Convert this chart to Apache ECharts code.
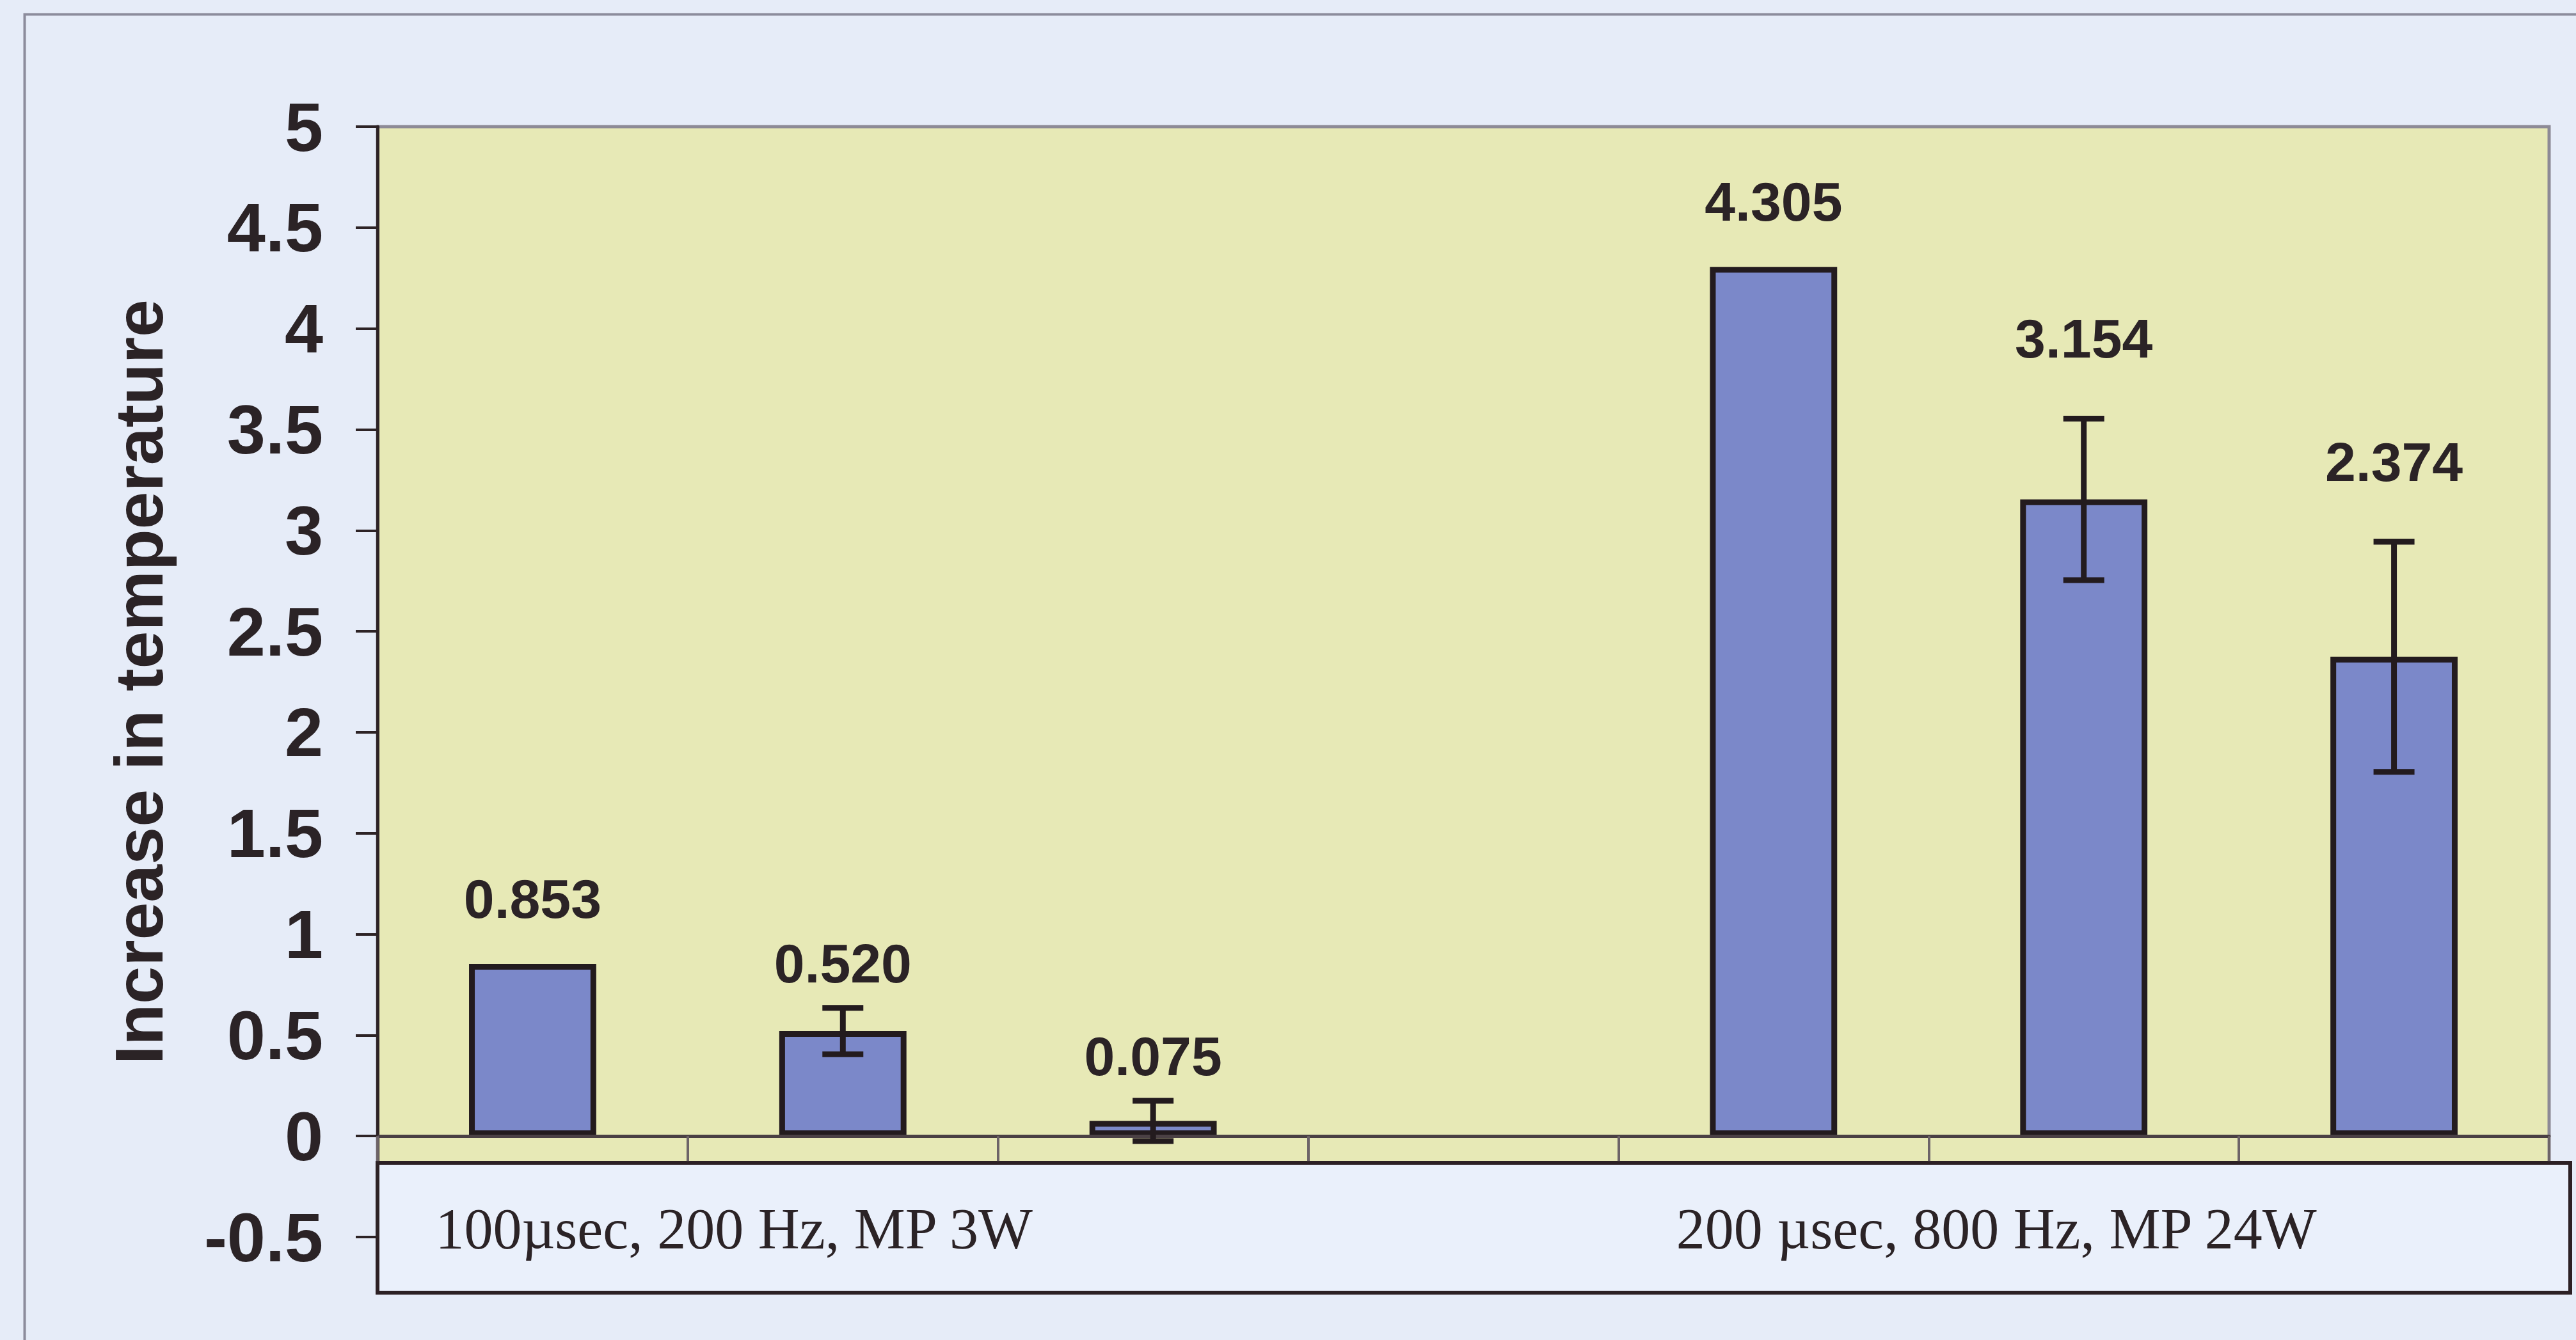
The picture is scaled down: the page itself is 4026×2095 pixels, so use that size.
<!DOCTYPE html>
<html>
<head>
<meta charset="utf-8">
<title>Increase in temperature</title>
<script src="https://cdn.jsdelivr.net/npm/echarts@6/dist/echarts.min.js"></script>
<style>
  html, body { margin: 0; padding: 0; background: #e6ecf8; }
  #chart { width: 4026px; height: 2095px; }
</style>
</head>
<body>
<div id="chart"></div>
<script>
// 7 slots on the category axis, the 4th one is the empty gap between the two groups
const categories = ['100µsec, 200 Hz, MP 3W', '', '', '', '200 µsec, 800 Hz, MP 24W', '', '']
const values = [0.853, 0.520, 0.075, null, 4.305, 3.154, 2.374]
const errors = [0, 0.115, 0.1, null, 0, 0.4, 0.57]
const yMin = -0.5
const yMax = 5
const yStep = 0.5

const textColor = '#2b2326'
const sans = '"Liberation Sans", Arial, sans-serif'
const serif = '"Liberation Serif", "Times New Roman", serif'

// error bars + value labels, one item per bar
const errorData = values
  .map((v, i) => (v == null ? null : [i, v, errors[i]]))
  .filter(Boolean)

function renderErrorBar(params, api) {
  const i = api.value(0)
  const v = api.value(1)
  const e = api.value(2)
  const top = api.coord([i, v])
  const children = []
  let labelY = top[1] - 102
  if (e > 0) {
    const hi = api.coord([i, v + e])
    const lo = api.coord([i, v - e])
    const half = 32
    const line = { stroke: '#231b1e', lineWidth: 9 }
    children.push(
      { type: 'line', shape: { x1: top[0], y1: hi[1], x2: top[0], y2: lo[1] }, style: line },
      { type: 'line', shape: { x1: top[0] - half, y1: hi[1], x2: top[0] + half, y2: hi[1] }, style: line },
      { type: 'line', shape: { x1: top[0] - half, y1: lo[1], x2: top[0] + half, y2: lo[1] }, style: line }
    )
    labelY = Math.min(labelY, hi[1] - (e > 0.3 ? 125 : 70))
  }
  children.push({
    type: 'text',
    x: top[0],
    y: labelY,
    style: {
      text: v.toFixed(3),
      fill: textColor,
      font: 'bold 86px ' + sans,
      align: 'center',
      verticalAlign: 'middle'
    }
  })
  return { type: 'group', children }
}

const chart = echarts.init(document.getElementById('chart'), null, { renderer: 'svg' })

const option = {
  backgroundColor: '#e6ecf8',
  animation: false,
  grid: {
    left: 590,
    right: 42,
    top: 198,
    bottom: 161,
    outerBoundsMode: 'none',
    containLabel: false,
    show: true,
    backgroundColor: '#e7e9b6',
    borderColor: '#8d8a96',
    borderWidth: 5
  },
  graphic: [
    {
      type: 'rect',
      left: 36,
      top: 20,
      shape: { width: 4200, height: 2300 },
      style: { fill: 'none', stroke: '#8c8c9c', lineWidth: 4 },
      z: -1,
      silent: true
    },
    {
      // white label box under the zero line
      type: 'rect',
      left: 587,
      top: 1815,
      shape: { width: 3427, height: 203 },
      style: { fill: '#eaf0fb', stroke: '#2c2024', lineWidth: 6 },
      z: 1,
      silent: true
    }
  ],
  xAxis: {
    type: 'category',
    data: categories,
    boundaryGap: true,
    z: 3,
    axisLine: { onZero: true, lineStyle: { color: '#4a4044', width: 5 } },
    axisTick: { show: true, interval: 0, length: 39, lineStyle: { color: '#6d6468', width: 4 } },
    axisLabel: {
      interval: 0,
      align: 'left',
      padding: [0, 0, 0, -152],
      margin: -58,
      fontFamily: serif,
      fontSize: 90,
      color: textColor
    },
    splitLine: { show: false }
  },
  yAxis: {
    type: 'value',
    min: yMin,
    max: yMax,
    interval: yStep,
    z: 3,
    name: 'Increase in temperature',
    nameLocation: 'middle',
    nameGap: 320,
    nameRotate: 90,
    nameTextStyle: { fontFamily: sans, fontWeight: 'bold', fontSize: 106, color: textColor },
    axisLine: { show: true, lineStyle: { color: '#2d2326', width: 5 } },
    axisTick: { show: true, length: 34, lineStyle: { color: '#2d2326', width: 4 } },
    axisLabel: {
      margin: 85,
      fontFamily: sans,
      fontWeight: 'bold',
      fontSize: 108,
      color: textColor,
      formatter: v => String(v)
    },
    splitLine: { show: false }
  },
  series: [
    {
      type: 'bar',
      data: values,
      barWidth: '41%',
      itemStyle: { color: '#7b88c9', borderColor: '#231b1e', borderWidth: 9 },
      z: 2
    },
    {
      type: 'custom',
      data: errorData,
      encode: { x: 0, y: 1 },
      renderItem: renderErrorBar,
      z: 4
    }
  ]
}

chart.setOption(option)
</script>
</body>
</html>
